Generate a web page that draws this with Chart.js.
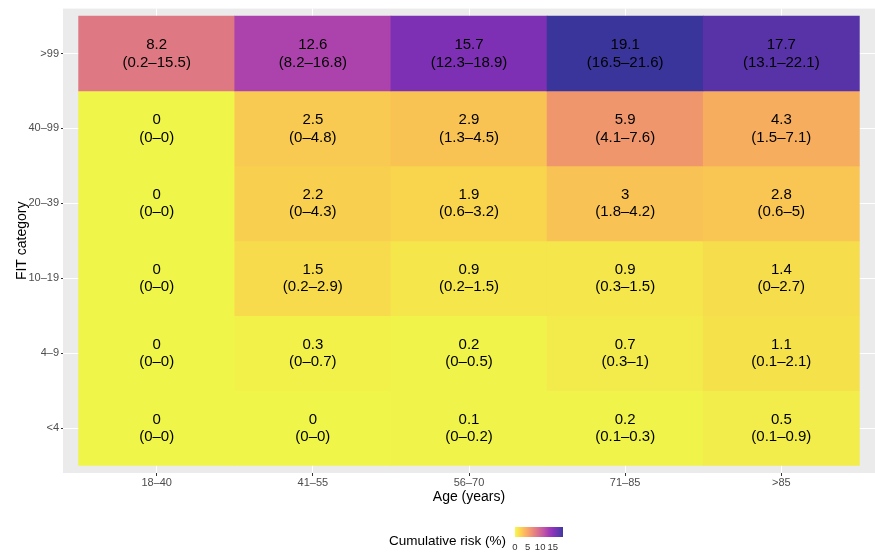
<!DOCTYPE html>
<html>
<head>
<meta charset="utf-8">
<script src="https://cdn.jsdelivr.net/npm/chart.js@4.4.1/dist/chart.umd.min.js"></script>
<style>
  html, body { margin: 0; padding: 0; background: #ffffff; }
  canvas { display: block; }
</style>
</head>
<body>
<canvas id="heat" width="875" height="555"></canvas>
<script>
// Age groups (columns) and FIT categories (rows, bottom to top)
const ageGroups = ['18–40', '41–55', '56–70', '71–85', '>85'];
const fitCategories = ['<4', '4–9', '10–19', '20–39', '40–99', '>99'];

// Cumulative risk (%) per FIT category row, by age group
const riskPct = [
  [0, 0, 0.1, 0.2, 0.5],
  [0, 0.3, 0.2, 0.7, 1.1],
  [0, 1.5, 0.9, 0.9, 1.4],
  [0, 2.2, 1.9, 3, 2.8],
  [0, 2.5, 2.9, 5.9, 4.3],
  [8.2, 12.6, 15.7, 19.1, 17.7]
];
// 95% interval bounds
const ciLower = [
  [0, 0, 0, 0.1, 0.1],
  [0, 0, 0, 0.3, 0.1],
  [0, 0.2, 0.2, 0.3, 0],
  [0, 0, 0.6, 1.8, 0.6],
  [0, 0, 1.3, 4.1, 1.5],
  [0.2, 8.2, 12.3, 16.5, 13.1]
];
const ciUpper = [
  [0, 0, 0.2, 0.3, 0.9],
  [0, 0.7, 0.5, 1, 2.1],
  [0, 2.9, 1.5, 1.5, 2.7],
  [0, 4.3, 3.2, 4.2, 5],
  [0, 4.8, 4.5, 7.6, 7.1],
  [15.5, 16.8, 18.9, 21.6, 22.1]
];
const legendTicks = [0, 5, 10, 15];

const FONT = '"Liberation Sans", Arial, Helvetica, sans-serif';
const PANEL_BG = [235, 235, 235];
const FILL_ALPHA = 0.8;

// plasma palette stops (reversed below: low risk = yellow)
const plasma = [
  [13, 8, 135], [65, 4, 157], [106, 0, 168], [143, 13, 164], [177, 42, 144],
  [204, 71, 120], [225, 100, 98], [242, 132, 75], [252, 166, 54], [252, 206, 37], [240, 249, 33]
];
function plasmaAt(t) {
  t = Math.max(0, Math.min(1, t));
  const p = t * (plasma.length - 1);
  const i = Math.min(plasma.length - 2, Math.floor(p));
  const f = p - i;
  return plasma[i].map((c, k) => c + (plasma[i + 1][k] - c) * f);
}
const riskMax = Math.max(...riskPct.flat());
function riskColour(v, bg) {
  const c = plasmaAt(1 - v / riskMax);
  const m = c.map((x, k) => Math.round(FILL_ALPHA * x + (1 - FILL_ALPHA) * bg[k]));
  return `rgb(${m[0]},${m[1]},${m[2]})`;
}

// one floating bar per cell, spanning its column and row
const cells = [];
const cellColours = [];
fitCategories.forEach((_, i) => {
  ageGroups.forEach((_, j) => {
    cells.push({ x: j, y: [i - 0.5, i + 0.5] });
    cellColours.push(riskColour(riskPct[i][j], PANEL_BG));
  });
});

const panelBackground = {
  id: 'panelBackground',
  beforeDraw(chart) {
    const { ctx, chartArea: a } = chart;
    ctx.save();
    ctx.fillStyle = 'rgb(235,235,235)';
    ctx.fillRect(a.left, a.top, a.right - a.left, a.bottom - a.top);
    ctx.restore();
  }
};

const cellLabels = {
  id: 'cellLabels',
  afterDatasetsDraw(chart) {
    const { ctx, scales: { x, y } } = chart;
    ctx.save();
    ctx.fillStyle = '#000000';
    ctx.font = `15px ${FONT}`;
    ctx.textAlign = 'center';
    ctx.textBaseline = 'middle';
    fitCategories.forEach((_, i) => {
      ageGroups.forEach((_, j) => {
        const px = x.getPixelForValue(j);
        const py = y.getPixelForValue(i);
        ctx.fillText(String(riskPct[i][j]), px, py - 8.5);
        ctx.fillText(`(${ciLower[i][j]}–${ciUpper[i][j]})`, px, py + 9);
      });
    });
    ctx.restore();
  }
};

const colourBar = {
  id: 'colourBar',
  afterDraw(chart) {
    const { ctx } = chart;
    const x0 = 515, w = 48, y0 = 527, h = 10;
    ctx.save();
    const g = ctx.createLinearGradient(x0, 0, x0 + w, 0);
    for (let k = 0; k <= 20; k++) {
      g.addColorStop(k / 20, riskColour(riskMax * k / 20, [255, 255, 255]));
    }
    ctx.fillStyle = g;
    ctx.fillRect(x0, y0, w, h);
    ctx.fillStyle = '#000000';
    ctx.font = `13.5px ${FONT}`;
    ctx.textAlign = 'right';
    ctx.textBaseline = 'middle';
    ctx.fillText('Cumulative risk (%)', 506, 541);
    ctx.font = `9.5px ${FONT}`;
    ctx.textAlign = 'center';
    ctx.fillStyle = '#333333';
    legendTicks.forEach(v => {
      ctx.fillText(String(v), x0 + (v / riskMax) * w, 547);
    });
    ctx.restore();
  }
};

new Chart(document.getElementById('heat'), {
  type: 'bar',
  data: {
    datasets: [{
      data: cells,
      backgroundColor: cellColours,
      borderWidth: 0,
      barPercentage: 1,
      categoryPercentage: 1,
      grouped: false
    }]
  },
  options: {
    responsive: false,
    animation: false,
    layout: { padding: { top: 6, right: 0, left: 14, bottom: 49 } },
    plugins: { legend: { display: false }, tooltip: { enabled: false } },
    scales: {
      x: {
        type: 'linear',
        offset: false,
        min: -0.6,
        max: ageGroups.length - 0.4,
        afterBuildTicks: s => { s.ticks = ageGroups.map((_, j) => ({ value: j })); },
        afterFit: s => { s.height = 33; },
        ticks: {
          callback: v => ageGroups[v],
          font: { family: FONT, size: 11 },
          color: '#4D4D4D',
          padding: 0,
          maxRotation: 0,
          autoSkip: false
        },
        grid: { offset: false, color: '#FFFFFF', lineWidth: 1, tickColor: '#333333', tickLength: 3 },
        border: { display: false },
        title: { display: true, text: 'Age (years)', font: { family: FONT, size: 14 }, color: '#000000', padding: 0 }
      },
      y: {
        type: 'linear',
        offset: false,
        min: -0.6,
        max: fitCategories.length - 0.4,
        afterBuildTicks: s => { s.ticks = fitCategories.map((_, i) => ({ value: i })); },
        afterFit: s => { s.width = 49; },
        ticks: {
          callback: v => fitCategories[v],
          font: { family: FONT, size: 11 },
          color: '#4D4D4D',
          padding: 2,
          autoSkip: false
        },
        grid: { offset: false, color: '#FFFFFF', lineWidth: 1, tickColor: '#333333', tickLength: 2 },
        border: { display: false },
        title: { display: true, text: 'FIT category', font: { family: FONT, size: 14 }, color: '#000000', padding: 0 }
      }
    }
  },
  plugins: [panelBackground, cellLabels, colourBar]
});
</script>
</body>
</html>
